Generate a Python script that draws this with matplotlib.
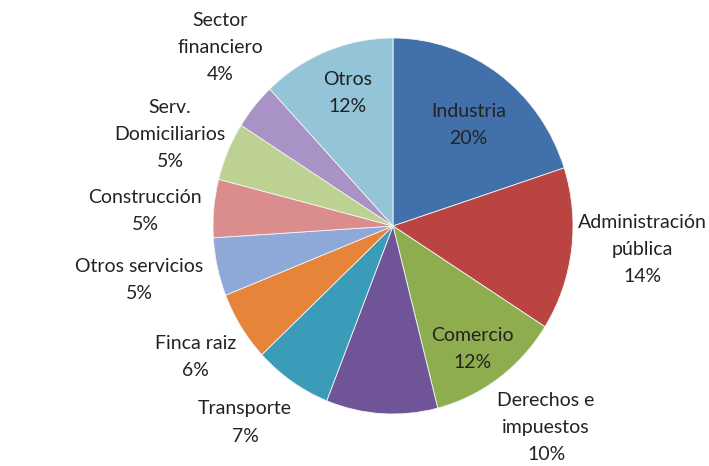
import numpy as np
import matplotlib
matplotlib.use("Agg")
import matplotlib.pyplot as plt

# Composición por sector (%)
sectores = ["Industria", "Administración\npública", "Comercio", "Derechos e\nimpuestos",
            "Transporte", "Finca raiz", "Otros servicios", "Construcción",
            "Serv.\nDomiciliarios", "Sector\nfinanciero", "Otros"]
porcentajes = [20, 14, 12, 10, 7, 6, 5, 5, 5, 4, 12]

colores = ["#4170AB", "#BA4442", "#8EAD4E", "#6F5497", "#3A9CB8", "#E6843A",
           "#8EA8D8", "#DB8D8E", "#BDD292", "#A993C6", "#93C4D8"]

# ubicación de cada etiqueta: distancia radial y desplazamiento angular (grados)
dist_etiqueta = [0.68, 1.39, 0.79, 1.37, 1.33, 1.30, 1.44, 1.38, 1.33, 1.35, 0.75]
giro_etiqueta = [-2, 2, -2, 42, -4, 0, -1, 2, 2, -5, -2]

plt.rcParams['font.family'] = ['Lato', 'DejaVu Sans']

fig = plt.figure(figsize=(7.09, 4.66), dpi=100)
ax = fig.add_axes([213 / 709, 52 / 466, 360 / 709, 376 / 466])

wedges, _ = ax.pie(porcentajes, colors=colores, startangle=90, counterclock=False,
                   radius=1.0, wedgeprops=dict(edgecolor="#f4f4f4", linewidth=0.6))
ax.set_aspect('auto')
ax.set_xlim(-1, 1)
ax.set_ylim(-1, 1)

for w, nombre, pct, r, dth in zip(wedges, sectores, porcentajes, dist_etiqueta, giro_etiqueta):
    ang = np.deg2rad((w.theta1 + w.theta2) / 2 + dth)
    ax.text(r * np.cos(ang), r * np.sin(ang), f"{nombre}\n{pct}%",
            ha='center', va='center', fontsize=14, color='#222222',
            linespacing=1.72, clip_on=False)

plt.savefig("out.png", dpi=100)
